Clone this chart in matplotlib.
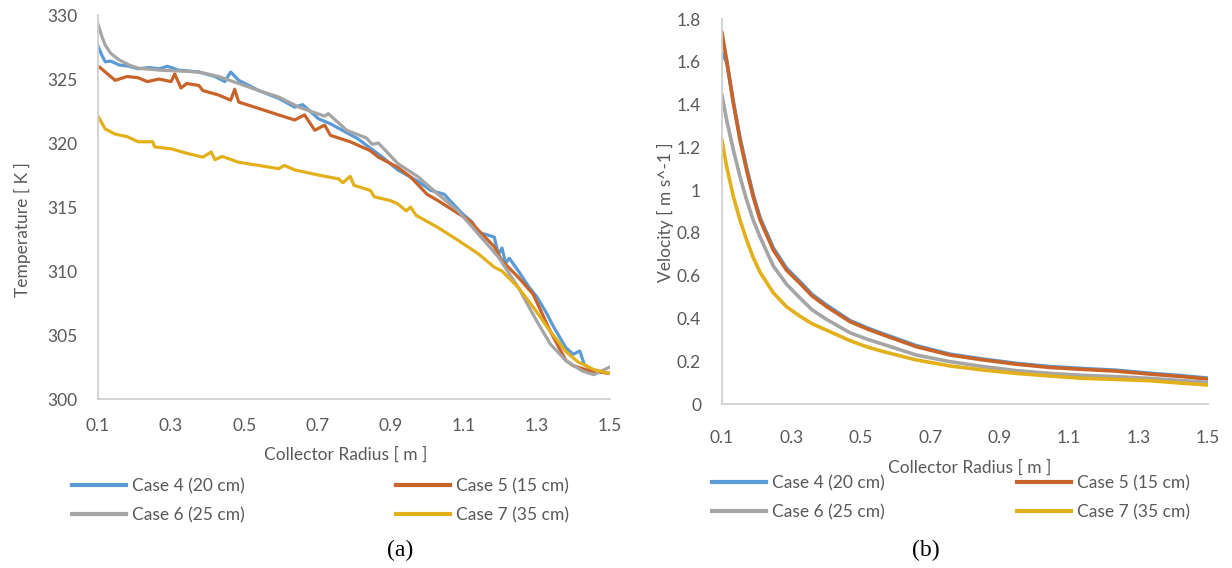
import matplotlib
matplotlib.use("Agg")
import matplotlib.pyplot as plt

plt.rcParams["font.family"] = ["Lato", "DejaVu Sans"]

# ---- (a) temperature along the collector radius ----
r4 = [0.10, 0.11, 0.12, 0.135, 0.158, 0.185, 0.21, 0.24, 0.267, 0.29, 0.32, 0.376, 0.42, 0.447, 0.463,
      0.485, 0.54, 0.594, 0.638, 0.66, 0.703, 0.736, 0.81, 0.878, 0.92, 0.976, 1.01, 1.047, 1.063,
      1.096, 1.124, 1.14, 1.156, 1.184, 1.195, 1.205, 1.215, 1.225, 1.25, 1.28, 1.30, 1.325, 1.347,
      1.38, 1.40, 1.418, 1.43, 1.456, 1.50]
t4 = [327.6, 326.9, 326.35, 326.4, 326.1, 326.0, 325.8, 325.9, 325.8, 326.0, 325.7, 325.55, 325.2, 324.8,
      325.55, 324.9, 324.1, 323.5, 322.8, 323.0, 321.9, 321.5, 320.35, 318.9, 317.9, 317.0, 316.3, 316.0,
      315.5, 314.5, 313.8, 313.0, 312.9, 312.65, 311.3, 311.8, 310.6, 311.0, 310.0, 308.7, 308.0, 306.8,
      305.6, 304.0, 303.5, 303.75, 302.7, 302.2, 302.0]

r5 = [0.10, 0.11, 0.12, 0.147, 0.18, 0.21, 0.235, 0.267, 0.30, 0.31, 0.327, 0.343, 0.376, 0.387, 0.43,
      0.463, 0.474, 0.485, 0.54, 0.594, 0.638, 0.665, 0.693, 0.72, 0.736, 0.79, 0.845, 0.867,
      0.92, 0.955, 1.00, 1.03, 1.085, 1.117, 1.14, 1.184, 1.205, 1.25, 1.29, 1.337, 1.38, 1.40,
      1.445, 1.50]
t5 = [326.0, 325.8, 325.55, 324.9, 325.2, 325.1, 324.8, 325.0, 324.8, 325.4, 324.3, 324.65, 324.5, 324.1,
      323.75, 323.35, 324.2, 323.2, 322.7, 322.2, 321.8, 322.2, 321.0, 321.4, 320.6, 320.1, 319.4, 318.9,
      318.1, 317.35, 316.0, 315.5, 314.5, 313.95, 313.2, 311.9, 310.8, 309.5, 308.2, 305.3, 303.0, 302.6,
      302.2, 302.0]

r6 = [0.10, 0.11, 0.12, 0.135, 0.158, 0.185, 0.21, 0.267, 0.376, 0.43, 0.485, 0.54, 0.594, 0.65,
      0.72, 0.73, 0.78, 0.834, 0.85, 0.867, 0.92, 0.976, 1.03, 1.085, 1.14, 1.195, 1.25, 1.30,
      1.337, 1.38, 1.424, 1.456, 1.50]
t6 = [329.3, 328.4, 327.65, 327.0, 326.5, 326.1, 325.85, 325.7, 325.55, 325.2, 324.65, 324.1, 323.6,
      322.8, 322.1, 322.3, 321.0, 320.4, 319.9, 320.0, 318.4, 317.35, 316.0, 314.7, 312.9, 311.1, 308.7,
      306.1, 304.3, 303.0, 302.2, 301.9, 302.5]

r7 = [0.10, 0.11, 0.12, 0.147, 0.18, 0.21, 0.25, 0.255, 0.30, 0.343, 0.387, 0.41, 0.42, 0.44, 0.485,
      0.54, 0.594, 0.61, 0.638, 0.703, 0.758, 0.77, 0.79, 0.80, 0.845, 0.856, 0.90, 0.92, 0.943,
      0.955, 0.97, 1.03, 1.085, 1.14, 1.184, 1.205, 1.25, 1.29, 1.337, 1.38, 1.413, 1.456, 1.50]
t7 = [322.1, 321.6, 321.1, 320.7, 320.5, 320.1, 320.1, 319.7, 319.55, 319.2, 318.9, 319.3, 318.7, 318.95,
      318.5, 318.25, 318.0, 318.25, 317.9, 317.5, 317.2, 316.9, 317.4, 316.7, 316.3, 315.8, 315.5, 315.25,
      314.7, 315.0, 314.35, 313.4, 312.4, 311.35, 310.3, 310.0, 308.7, 307.2, 305.3, 303.7, 302.9, 302.3,
      302.0]

# ---- (b) velocity along the collector radius ----
rv = [0.10, 0.1135, 0.133, 0.152, 0.171, 0.19, 0.21, 0.248, 0.286, 0.325, 0.36, 0.402, 0.469, 0.52,
      0.565, 0.66, 0.757, 0.853, 0.949, 1.045, 1.14, 1.236, 1.332, 1.428, 1.50]
v4 = [1.64, 1.60, 1.41, 1.245, 1.105, 0.98, 0.87, 0.73, 0.635, 0.572, 0.512, 0.462, 0.39, 0.355,
      0.328, 0.273, 0.233, 0.21, 0.19, 0.175, 0.166, 0.158, 0.144, 0.132, 0.121]
v5 = [1.736, 1.608, 1.406, 1.234, 1.094, 0.969, 0.86, 0.72, 0.626, 0.564, 0.505, 0.455, 0.385, 0.35,
      0.323, 0.268, 0.229, 0.206, 0.186, 0.171, 0.162, 0.154, 0.140, 0.128, 0.117]
v6 = [1.445, 1.328, 1.187, 1.063, 0.954, 0.86, 0.78, 0.645, 0.56, 0.495, 0.44, 0.395, 0.333, 0.302,
      0.279, 0.229, 0.198, 0.175, 0.156, 0.143, 0.134, 0.128, 0.120, 0.109, 0.101]
v7 = [1.234, 1.11, 0.969, 0.86, 0.767, 0.685, 0.615, 0.52, 0.455, 0.41, 0.375, 0.345, 0.296, 0.266,
      0.245, 0.206, 0.178, 0.159, 0.143, 0.131, 0.120, 0.115, 0.109, 0.097, 0.089]

labels = ["Case 4 (20 cm)", "Case 5 (15 cm)", "Case 6 (25 cm)", "Case 7 (35 cm)"]
colors = ["#5B9BD5", "#C8642A", "#A5A5A5", "#E2B01A"]
ticks_x = [0.1, 0.3, 0.5, 0.7, 0.9, 1.1, 1.3, 1.5]
txt = "#595959"
axis_col = "#D0D0D0"

fig = plt.figure(figsize=(12.32, 5.68), dpi=100)
axA = fig.add_axes([0.0795, 0.2975, 0.4155, 0.676])
axB = fig.add_axes([0.586, 0.2887, 0.3945, 0.6778])


def style(ax, xpad, ypad):
    for s in ["top", "right"]:
        ax.spines[s].set_visible(False)
    for s in ["left", "bottom"]:
        ax.spines[s].set_color(axis_col)
        ax.spines[s].set_linewidth(1.3)
    ax.tick_params(axis="both", length=0, labelsize=12.5, labelcolor=txt)
    ax.tick_params(axis="x", pad=xpad)
    ax.tick_params(axis="y", pad=ypad)
    ax.set_xlim(0.1, 1.5)
    ax.set_xticks(ticks_x)
    ax.set_xticklabels([f"{t:g}" for t in ticks_x])


for rr, tt, c, lab in zip([r4, r5, r6, r7], [t4, t5, t6, t7], colors, labels):
    axA.plot(rr, tt, color=c, lw=2.3, label=lab, solid_joinstyle="round")
style(axA, 14, 15)
axA.set_ylim(300, 330)
axA.set_yticks(range(300, 331, 5))

for vv, c, lab in zip([v4, v5, v6, v7], colors, labels):
    axB.plot(rv, vv, color=c, lw=2.6, label=lab)
style(axB, 19, 15)
axB.set_ylim(0, 1.8)
axB.set_yticks([0, 0.2, 0.4, 0.6, 0.8, 1.0, 1.2, 1.4, 1.6, 1.8])
axB.set_yticklabels(["0", "0.2", "0.4", "0.6", "0.8", "1", "1.2", "1.4", "1.6", "1.8"])

fig.text(22 / 1232, 1 - 230 / 568, "Temperature [ K ]", rotation=90, ha="center", va="center",
         fontsize=12.5, color=txt)
fig.text(665 / 1232, 1 - 212 / 568, "Velocity [ m s^-1 ]", rotation=90, ha="center", va="center",
         fontsize=12.5, color=txt)
fig.text(346 / 1232, 1 - 455 / 568, "Collector Radius [ m ]", ha="center", va="center",
         fontsize=12.5, color=txt)

order = [0, 2, 1, 3]
for ax, x0, y0, cs in [(axA, 60 / 1232, 1 - 466 / 568, 8.7), (axB, 700 / 1232, 1 - 463 / 568, 7.6)]:
    h, l = ax.get_legend_handles_labels()
    leg = fig.legend([h[i] for i in order], [l[i] for i in order], ncol=2, loc="upper left",
                     bbox_to_anchor=(x0, y0), frameon=False, fontsize=12.5, labelcolor=txt,
                     handlelength=3.1, handletextpad=0.35, columnspacing=cs, labelspacing=0.75,
                     borderpad=0.2)
    for lh in leg.get_lines():
        lh.set_linewidth(3)

fig.text(970 / 1232, 1 - 468 / 568, "Collector Radius [ m ]", ha="center", va="center",
         fontsize=12.5, color=txt)

fig.text(400 / 1232, 1 - 550 / 568, "(a)", ha="center", va="center", fontsize=17,
         family=["Liberation Serif", "DejaVu Serif"], color="black")
fig.text(926 / 1232, 1 - 550 / 568, "(b)", ha="center", va="center", fontsize=17,
         family=["Liberation Serif", "DejaVu Serif"], color="black")

fig.savefig("out.png", dpi=100)
